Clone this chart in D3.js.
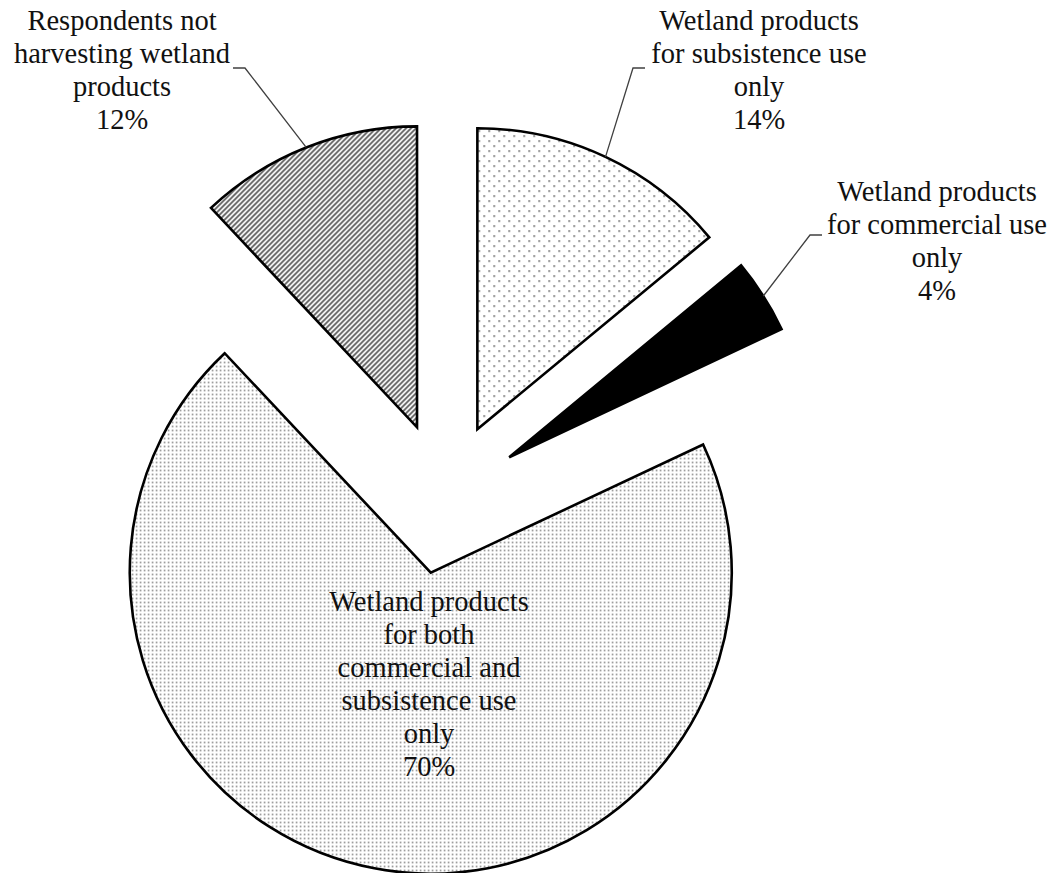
<!DOCTYPE html>
<html>
<head>
<meta charset="utf-8">
<script src="https://cdn.jsdelivr.net/npm/d3@7"></script>
<style>
  html, body { margin: 0; padding: 0; background: #fff; }
  svg { display: block; }
  text { font-family: "Liberation Serif", "Times New Roman", serif; font-size: 28.5px; fill: #111; }
</style>
</head>
<body>
<svg id="chart" width="1054" height="873"></svg>
<script>
// Share of respondents by type of wetland product use (%), clockwise from 12 o'clock
const categories = [
  "Wetland products for subsistence use only",
  "Wetland products for commercial use only",
  "Wetland products for both commercial and subsistence use only",
  "Respondents not harvesting wetland products"
];
const values = [14, 4, 70, 12];
const labelLines = [
  ["Wetland products", "for subsistence use", "only"],
  ["Wetland products", "for commercial use", "only"],
  ["Wetland products", "for both", "commercial and", "subsistence use", "only"],
  ["Respondents not", "harvesting wetland", "products"]
];
const fills = ["url(#dotsSparse)", "#000", "url(#dotsDense)", "url(#hatch)"];

const svg = d3.select("#chart");
const defs = svg.append("defs");

// Sparse staggered dot fill
const pS = defs.append("pattern").attr("id", "dotsSparse")
  .attr("patternUnits", "userSpaceOnUse").attr("width", 10).attr("height", 10);
pS.append("rect").attr("width", 10).attr("height", 10).attr("fill", "#fff");
pS.append("rect").attr("x", 1).attr("y", 1).attr("width", 1.7).attr("height", 1.7).attr("fill", "#6a6a6a");
pS.append("rect").attr("x", 6).attr("y", 6).attr("width", 1.7).attr("height", 1.7).attr("fill", "#6a6a6a");

// Dense dot fill
const pD = defs.append("pattern").attr("id", "dotsDense")
  .attr("patternUnits", "userSpaceOnUse").attr("width", 4).attr("height", 4);
pD.append("rect").attr("width", 4).attr("height", 4).attr("fill", "#fff");
pD.append("rect").attr("x", 1).attr("y", 1).attr("width", 1.5).attr("height", 1.5).attr("fill", "#7a7a7a");

// Diagonal hatch fill
const pH = defs.append("pattern").attr("id", "hatch")
  .attr("patternUnits", "userSpaceOnUse").attr("width", 5).attr("height", 5);
pH.append("rect").attr("width", 5).attr("height", 5).attr("fill", "#fff");
pH.append("path").attr("d", "M-1,1 l2,-2 M0,5 l5,-5 M4,6 l2,-2")
  .attr("stroke", "#585858").attr("stroke-width", 1.7);

const cx = 445, cy = 498, radius = 301, explode = 76;

const pie = d3.pie().sort(null).value(d => d)(values);
const arc = d3.arc().innerRadius(0).outerRadius(radius);

const offset = d => {
  const m = (d.startAngle + d.endAngle) / 2;
  return [Math.sin(m) * explode, -Math.cos(m) * explode];
};

const g = svg.append("g").attr("transform", `translate(${cx},${cy})`);

g.selectAll("path.slice").data(pie).join("path")
  .attr("class", "slice")
  .attr("transform", d => { const o = offset(d); return `translate(${o[0]},${o[1]})`; })
  .attr("d", arc)
  .attr("fill", (d, i) => fills[i])
  .attr("stroke", "#000")
  .attr("stroke-width", 2.6)
  .attr("stroke-linejoin", "miter");

// Label placement: centre x, first baseline, and leader elbow (null = label inside slice)
const labelPos = [
  { x: 759, y: 30, elbow: [[645, 68], [633, 68]] },
  { x: 937, y: 201, elbow: [[822, 235], [810, 235]] },
  { x: 429, y: 611, elbow: null },
  { x: 122, y: 30, elbow: [[233, 68], [245, 68]] }
];
const lineH = 33;

pie.forEach((d, i) => {
  const p = labelPos[i];
  const lines = labelLines[i].concat([d3.format("d")(values[i]) + "%"]);
  const t = svg.append("text").attr("text-anchor", "middle");
  lines.forEach((s, k) => t.append("tspan").attr("x", p.x).attr("y", p.y + k * lineH).text(s));

  if (p.elbow) {
    const m = (d.startAngle + d.endAngle) / 2;
    const o = offset(d);
    const ex = cx + o[0] + Math.sin(m) * radius;
    const ey = cy + o[1] - Math.cos(m) * radius;
    svg.append("path")
      .attr("d", d3.line()([p.elbow[0], p.elbow[1], [ex, ey]]))
      .attr("fill", "none").attr("stroke", "#404040").attr("stroke-width", 1.3);
  }
});
</script>
</body>
</html>
